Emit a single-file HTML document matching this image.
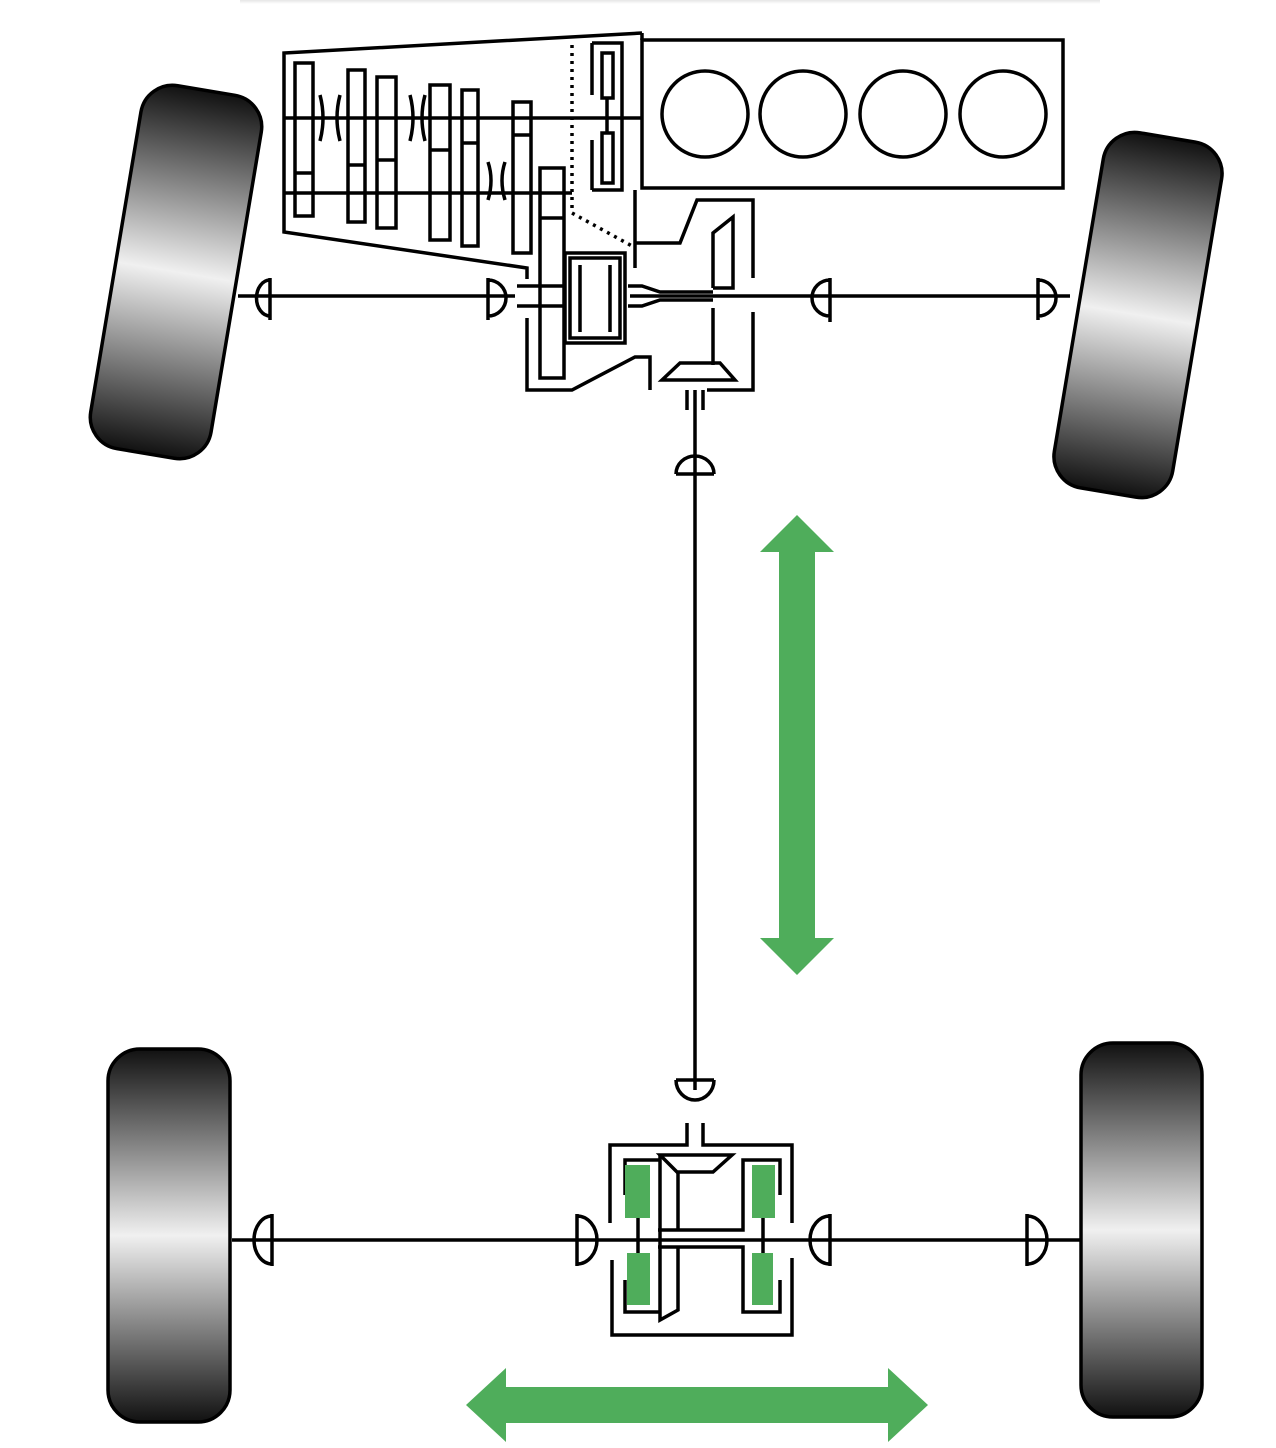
<!DOCTYPE html>
<html><head><meta charset="utf-8"><style>html,body{margin:0;padding:0;background:#fff}svg{display:block}</style></head>
<body>
<svg width="1276" height="1448" viewBox="0 0 1276 1448" xmlns="http://www.w3.org/2000/svg">
<defs>
<linearGradient id="tg" x1="0" y1="0" x2="0" y2="1">
<stop offset="0" stop-color="#111"/><stop offset="0.5" stop-color="#f0f0f0"/><stop offset="1" stop-color="#111"/>
</linearGradient>
<linearGradient id="top" x1="0" y1="0" x2="0" y2="1"><stop offset="0" stop-color="#e6e6e6"/><stop offset="1" stop-color="#fff"/></linearGradient>
</defs>
<rect x="240" y="0" width="860" height="4" fill="url(#top)"/>
<g stroke="#000" stroke-width="3.5" fill="url(#tg)">
<rect x="-61" y="-184" width="122" height="368" rx="32" transform="translate(176,272) rotate(9.5)"/>
<rect x="-60" y="-180" width="120" height="360" rx="32" transform="translate(1138,315) rotate(9.5)"/>
<rect x="108" y="1049" width="122" height="373" rx="32"/>
<rect x="1081" y="1043" width="121" height="374" rx="32"/>
</g>
<g stroke="#000" stroke-width="3.5" fill="none" stroke-linecap="butt">
<line x1="238" y1="296" x2="515" y2="296"/>
<line x1="630" y1="296" x2="1070" y2="296"/>
<path d="M270 278 V320 M270 280 A12 16 0 0 0 270 316"/>
<path d="M488 278 V320 M488 280 A18 18 0 0 1 488 316"/>
<path d="M830 278 V322 M830 280 A18 18 0 0 0 830 316"/>
<path d="M1038 278 V320 M1038 280 A18 18 0 0 1 1038 316"/>
<line x1="695" y1="390" x2="695" y2="1090"/>
<path d="M676 474 H714 M676 474 A19 18 0 0 1 714 474"/>
<path d="M676 1080 H714 M676 1080 A19 20 0 0 0 714 1080"/>
<path d="M687 390 V410 M703 390 V410"/>
<line x1="232" y1="1240" x2="610" y2="1240"/>
<line x1="792" y1="1240" x2="1080" y2="1240"/>
<path d="M272 1214 V1266 M272 1216 A18 24 0 0 0 272 1264"/>
<path d="M577 1214 V1266 M577 1216 A20 24 0 0 1 577 1264"/>
<path d="M830 1214 V1266 M830 1216 A20 24 0 0 0 830 1264"/>
<path d="M1027 1214 V1266 M1027 1216 A20 24 0 0 1 1027 1264"/>
<rect x="642" y="40" width="421" height="148"/>
<circle cx="705" cy="114" r="43"/><circle cx="803" cy="114" r="43"/>
<circle cx="903" cy="114" r="43"/><circle cx="1003" cy="114" r="43"/>
<path d="M642 33 L284 53 V232 L527 268 V279"/>
<line x1="642" y1="33" x2="642" y2="40"/>
<line x1="284" y1="118" x2="642" y2="118"/>
<line x1="284" y1="193" x2="572" y2="193"/>
<rect x="295" y="63" width="18" height="153"/>
<rect x="348" y="70" width="17" height="152"/>
<rect x="377" y="77" width="19" height="151"/>
<rect x="430" y="85" width="20" height="155"/>
<rect x="462" y="90" width="16" height="156"/>
<rect x="513" y="102" width="18" height="151"/>
<rect x="540" y="168" width="24" height="210"/>
<path d="M295 173 H313 M348 165 H365 M377 160 H396 M430 150 H450 M462 143 H478 M513 135 H531 M540 218 H564"/>
<path d="M320 95 q6 23 0 46 M340 95 q-6 23 0 46 M410 95 q6 23 0 46 M425 95 q-6 23 0 46 M488 162 q6 18 0 38 M505 162 q-6 18 0 38"/>
<path d="M572 45 V213 L632 246" stroke-dasharray="3 5"/>
<path d="M592 43 H622 V190 H592 M592 43 V95 M592 140 V190"/>
<rect x="602" y="53" width="11" height="45"/><rect x="602" y="133" width="11" height="50"/>
<line x1="607" y1="98" x2="607" y2="133"/>
<path d="M635 190 V268"/>
<path d="M635 243 H680 L697 200 H753 V278"/>
<path d="M713 288 V233 L733 217 V288 H713"/>
<path d="M713 308 V365 M753 312 V390 H707 M650 390 V357 H635 L572 390 H527 V318"/>
<path d="M662 380 L680 363 H720 L735 380 Z"/>
<rect x="565" y="253" width="60" height="90"/>
<rect x="570" y="258" width="50" height="80"/>
<path d="M580 265 V332 M610 265 V332"/>
<path d="M517 286 H565 M517 306 H565 M628 286 H642 L660 292 H713 M628 306 H642 L660 300 H713"/>
<path d="M610 1223 V1145 H687 V1123 M703 1123 V1145 H792 V1223"/>
<path d="M612 1260 V1335 H792 V1258"/>
<path d="M660 1155 H732 L713 1172 H677 Z"/>
<path d="M660 1155 V1320 L678 1310 V1247 M678 1172 V1230"/>
<path d="M658 1230 H743 V1160 H780 V1195 M658 1247 H743 V1312 H780 V1280"/>
<path d="M660 1160 H625 V1195 M660 1312 H625 V1280"/>
<path d="M638 1218 V1253 M763 1218 V1253 M610 1240 H792"/>
</g>
<g fill="#4fad5b">
<rect x="625" y="1165" width="25" height="53"/><rect x="627" y="1253" width="23" height="52"/>
<rect x="752" y="1165" width="23" height="53"/><rect x="752" y="1253" width="21" height="52"/>
<polygon points="797,515 834,552 815,552 815,938 834,938 797,975 760,938 779,938 779,552 760,552"/>
<polygon points="466,1405 506,1368 506,1387 888,1387 888,1368 928,1405 888,1442 888,1423 506,1423 506,1442"/>
</g>
</svg>
</body></html>
